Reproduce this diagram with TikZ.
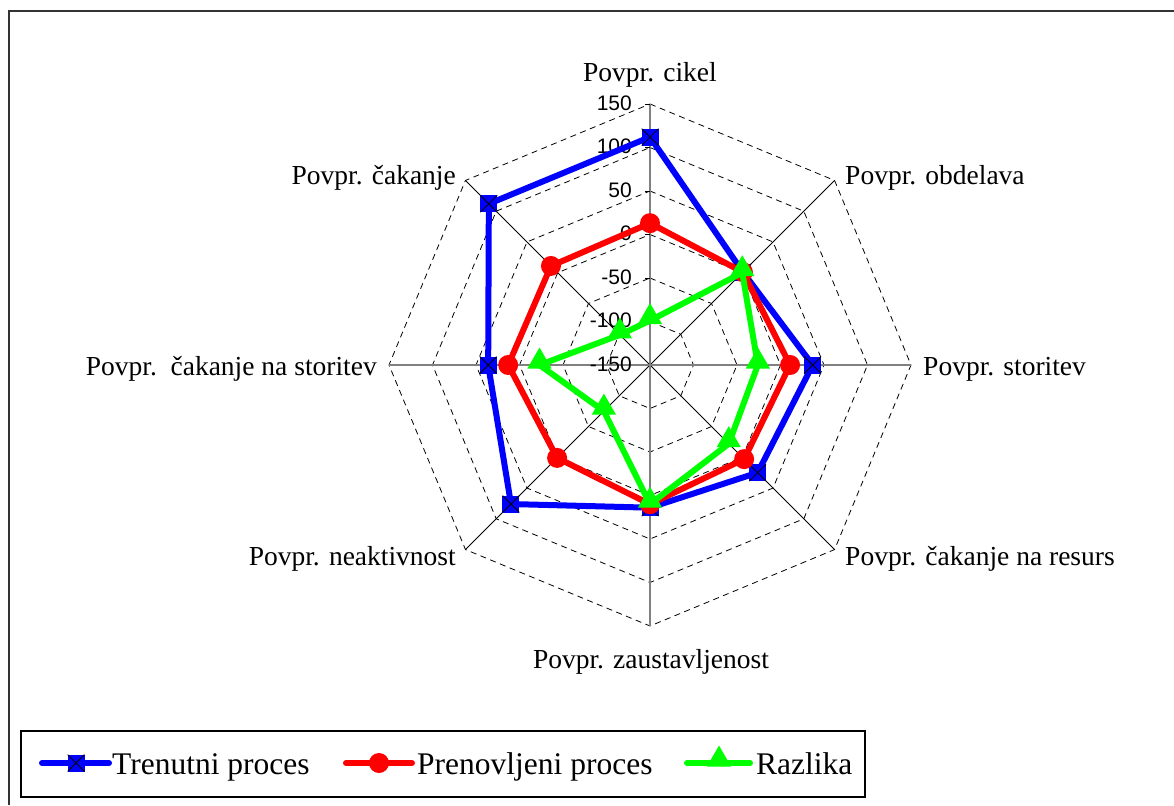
\documentclass[tikz,border=0pt]{standalone}
\usepackage{fontspec}
\setmainfont{Liberation Serif}
\newfontfamily\axisfont{Liberation Sans}
\usetikzlibrary{shapes.geometric}
\begin{document}
\begin{tikzpicture}[x=1pt,y=1pt,
  gridring/.style={draw=black,line width=0.8pt,dash pattern=on 6pt off 4.5pt},
  spoke/.style={draw=black,line width=0.8pt},
  mainaxis/.style={draw=gray,line width=1.8pt},
  catlabel/.style={font=\fontsize{27.5}{30}\selectfont,inner sep=0pt},
  ticklabel/.style={font=\axisfont\fontsize{21}{22}\selectfont,inner sep=0pt,anchor=east},
  series/.style={line width=6pt,line join=round,line cap=round},
  sqmark/.style={rectangle,fill=blue,minimum size=17pt,inner sep=0pt,
    path picture={\draw[black,line width=0.8pt]
      (path picture bounding box.north west) -- (path picture bounding box.south east)
      (path picture bounding box.north east) -- (path picture bounding box.south west);}},
  dotmark/.style={circle,fill=red,minimum size=20pt,inner sep=0pt},
  trimark/.style={regular polygon,regular polygon sides=3,fill=green,
    minimum size=28pt,inner sep=0pt,yshift=3.5pt},
  legendtext/.style={font=\fontsize{31.5}{34}\selectfont,inner sep=0pt,anchor=base west},
]
\useasboundingbox (0,0) rectangle (1174,-805);
\fill[white] (0,0) rectangle (1174,-805);
% outer chart frame
\draw[line width=2pt,black!80] (9,-805) -- (9,-11) -- (1174,-11);

\begin{scope}[shift={(650,-365)}]
  % dashed octagonal grid
  \foreach \k in {1,...,6} {
    \draw[gridring] (90:{43.5*\k})
      \foreach \a in {45,0,-45,-90,-135,-180,-225} { -- (\a:{43.5*\k}) } -- cycle;
  }
  % spokes
  \draw[spoke] (45:261) -- (225:261);
  \draw[spoke] (135:261) -- (315:261);
  \draw[mainaxis] (0,261) -- (0,-261);
  \draw[mainaxis] (-261,0) -- (261,0);
  \foreach \k in {1,...,6} \draw[black,line width=0.8pt] (-5,{43.5*\k}) -- (0,{43.5*\k});
  % value axis labels
  \foreach \v [count=\k from 0] in {-150,-100,-50,0,50,100,150}
    \node[ticklabel] (t\k) at (-18,{43.5*\k+1}) {\v};

  % Trenutni proces
  \foreach \v [count=\i from 0] in {112,1,37,25,14,76,36,112}
    \coordinate (b\i) at ({90-45*\i}:{0.87*(\v+150)});
  \draw[series,blue] (b0) -- (b1) -- (b2) -- (b3) -- (b4) -- (b5) -- (b6) -- (b7) -- cycle;
  \foreach \i in {0,...,7} \node[sqmark] (bm\i) at (b\i) {};

  % Prenovljeni proces
  \foreach \v [count=\i from 0] in {13,1,11,3,10,1,13,11}
    \coordinate (r\i) at ({90-45*\i}:{0.87*(\v+150)});
  \draw[series,red] (r0) -- (r1) -- (r2) -- (r3) -- (r4) -- (r5) -- (r6) -- (r7) -- cycle;
  \foreach \i in {0,...,7} \node[dotmark] (rm\i) at (r\i) {};

  % Razlika
  \foreach \v [count=\i from 0] in {-99,0,-26,-22,10,-75,-23,-101}
    \coordinate (g\i) at ({90-45*\i}:{0.87*(\v+150)});
  \draw[series,green] (g0) -- (g1) -- (g2) -- (g3) -- (g4) -- (g5) -- (g6) -- (g7) -- cycle;
  \foreach \i in {0,...,7} \node[trimark] (gm\i) at (g\i) {};
\end{scope}

% category labels
\node[catlabel,anchor=base] (c0) at (650,-82) {Povpr. cikel};
\node[catlabel,anchor=base west] (c1) at (845,-185) {Povpr. obdelava};
\node[catlabel,anchor=base west] (c2) at (923,-375) {Povpr. storitev};
\node[catlabel,anchor=base west] (c3) at (845,-565) {Povpr. čakanje na resurs};
\node[catlabel,anchor=base] (c4) at (651,-668) {Povpr. zaustavljenost};
\node[catlabel,anchor=base east] (c5) at (456,-565) {Povpr. neaktivnost};
\node[catlabel,anchor=base east] (c6) at (377,-375) {Povpr.\ \ čakanje na storitev};
\node[catlabel,anchor=base east] (c7) at (456,-185) {Povpr. čakanje};

% legend
\draw[line width=1.5pt] (21,-731) rectangle (865,-797);
\coordinate (la1) at (42,-763); \coordinate (lb1) at (109,-763);
\coordinate (la2) at (346,-763); \coordinate (lb2) at (412,-763);
\coordinate (la3) at (687,-763); \coordinate (lb3) at (750,-763);
\draw[series,blue] (la1) -- (lb1);
\node[sqmark] (lm1) at (76,-763) {};
\node[legendtext] (lt1) at (112,-774) {Trenutni proces};
\draw[series,red] (la2) -- (lb2);
\node[dotmark] (lm2) at (379,-763) {};
\node[legendtext] (lt2) at (417,-774) {Prenovljeni proces};
\draw[series,green] (la3) -- (lb3);
\node[trimark] (lm3) at (719,-763) {};
\node[legendtext] (lt3) at (756,-774) {Razlika};
\end{tikzpicture}
\end{document}
